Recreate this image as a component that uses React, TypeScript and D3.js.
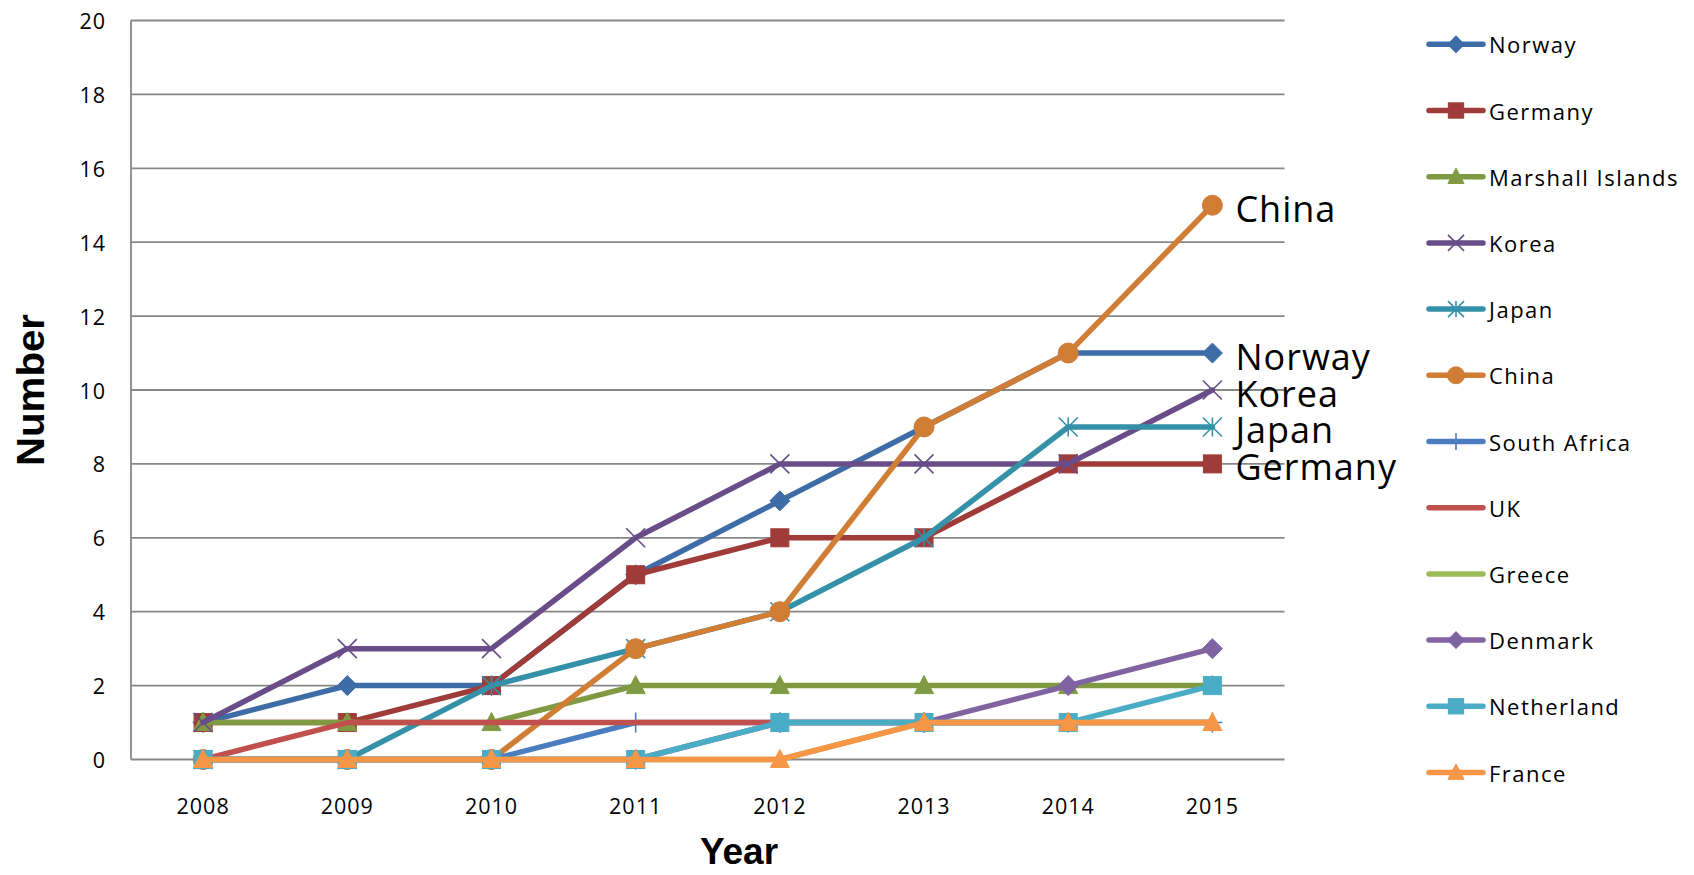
import React from "react";
import * as d3 from "d3";

const years = ["2008", "2009", "2010", "2011", "2012", "2013", "2014", "2015"];
const yTicks = [0, 2, 4, 6, 8, 10, 12, 14, 16, 18, 20];

const norway = [1, 2, 2, 5, 7, 9, 11, 11];
const germany = [1, 1, 2, 5, 6, 6, 8, 8];
const marshall = [1, 1, 1, 2, 2, 2, 2, 2];
const korea = [1, 3, 3, 6, 8, 8, 8, 10];
const japan = [0, 0, 2, 3, 4, 6, 9, 9];
const china = [0, 0, 0, 3, 4, 9, 11, 15];
const southAfrica = [0, 0, 0, 1, 1, 1, 1, 1];
const uk = [0, 1, 1, 1, 1, 1, 1, 1];
const greece = [0, 0, 0, 0, 0, 1, 1, 1];
const denmark = [0, 0, 0, 0, 1, 1, 2, 3];
const netherland = [0, 0, 0, 0, 1, 1, 1, 2];
const france = [0, 0, 0, 0, 0, 1, 1, 1];

type Marker = "diamond" | "square" | "triangle" | "x" | "star" | "circle" | "plus" | "none";

const series: { name: string; values: number[]; color: string; marker: Marker }[] = [
  { name: "Norway", values: norway, color: "#3D6CA6", marker: "diamond" },
  { name: "Germany", values: germany, color: "#9F3C39", marker: "square" },
  { name: "Marshall Islands", values: marshall, color: "#7F9A42", marker: "triangle" },
  { name: "Korea", values: korea, color: "#684D88", marker: "x" },
  { name: "Japan", values: japan, color: "#3591A8", marker: "star" },
  { name: "China", values: china, color: "#D07D35", marker: "circle" },
  { name: "South Africa", values: southAfrica, color: "#4A7EBF", marker: "plus" },
  { name: "UK", values: uk, color: "#C0504D", marker: "none" },
  { name: "Greece", values: greece, color: "#9BBB59", marker: "none" },
  { name: "Denmark", values: denmark, color: "#8064A2", marker: "diamond" },
  { name: "Netherland", values: netherland, color: "#4BACC6", marker: "square" },
  { name: "France", values: france, color: "#F79646", marker: "triangle" },
];

const endLabels = ["China", "Norway", "Korea", "Japan", "Germany"];

const W = 1694;
const H = 875;
const plotLeft = 131;
const plotRight = 1284.5;
const plotTop = 20.5;
const plotBottom = 759.5;

const textFont = "'Open Sans', 'Noto Sans', sans-serif";
const titleFont = "'Liberation Sans', Arial, sans-serif";

function MarkerShape({ type, x, y, color, s }: { type: Marker; x: number; y: number; color: string; s: number }) {
  const h = s / 2;
  switch (type) {
    case "diamond":
      return <path d={`M${x},${y - h}L${x + h},${y}L${x},${y + h}L${x - h},${y}Z`} fill={color} stroke={color} strokeWidth={1} />;
    case "square":
      return <rect x={x - h * 0.9} y={y - h * 0.9} width={h * 1.8} height={h * 1.8} fill={color} stroke={color} strokeWidth={1} />;
    case "triangle":
      return <path d={`M${x},${y - h}L${x + h * 0.95},${y + h * 0.8}L${x - h * 0.95},${y + h * 0.8}Z`} fill={color} stroke={color} strokeWidth={1} />;
    case "circle":
      return <circle cx={x} cy={y} r={h} fill={color} stroke={color} strokeWidth={1} />;
    case "x":
      return (
        <path d={`M${x - h},${y - h}L${x + h},${y + h}M${x - h},${y + h}L${x + h},${y - h}`} stroke={color} strokeWidth={1.6} fill="none" />
      );
    case "star":
      return (
        <path
          d={`M${x - h},${y - h}L${x + h},${y + h}M${x - h},${y + h}L${x + h},${y - h}M${x},${y - h}L${x},${y + h}`}
          stroke={color}
          strokeWidth={1.6}
          fill="none"
        />
      );
    case "plus":
      return <path d={`M${x - h},${y}L${x + h},${y}M${x},${y - h}L${x},${y + h}`} stroke={color} strokeWidth={1.6} fill="none" />;
    default:
      return null;
  }
}

export default function App() {
  const xBand = d3.scaleBand<string>().domain(years).range([plotLeft, plotRight]);
  const xPos = (yr: string) => (xBand(yr) as number) + xBand.bandwidth() / 2;
  const y = d3.scaleLinear().domain([0, 20]).range([plotBottom, plotTop]);

  const line = d3
    .line<number>()
    .x((_, i) => xPos(years[i]))
    .y((v) => y(v));

  const legendX = 1429;
  const legendY0 = 44.3;
  const legendStep = 66.2;

  return (
    <svg width={W} height={H} style={{ position: "absolute", left: 0, top: 0, background: "#fff" }}>
      <rect x={0} y={0} width={W} height={H} fill="#fff" />
      {yTicks.map((t) => (
        <line key={t} x1={plotLeft} x2={plotRight} y1={y(t)} y2={y(t)} stroke="#878787" strokeWidth={1.8} />
      ))}
      <line x1={plotLeft} x2={plotLeft} y1={plotTop} y2={plotBottom} stroke="#878787" strokeWidth={1.8} />
      {yTicks.map((t) => (
        <text
          key={t}
          x={106}
          y={y(t)}
          textAnchor="end"
          dominantBaseline="central"
          fontFamily={textFont}
          fontSize={21.5}
          letterSpacing={1}
          fill="#000"
        >
          {t}
        </text>
      ))}
      {years.map((yr) => (
        <text
          key={yr}
          x={xPos(yr)}
          y={805}
          textAnchor="middle"
          dominantBaseline="central"
          fontFamily={textFont}
          fontSize={21.5}
          letterSpacing={1}
          fill="#000"
        >
          {yr}
        </text>
      ))}
      {series.map((s) => (
        <g key={s.name}>
          <path d={line(s.values) || ""} fill="none" stroke={s.color} strokeWidth={5.5} strokeLinejoin="round" strokeLinecap="round" />
          {s.values.map((v, i) => (
            <MarkerShape key={i} type={s.marker} x={xPos(years[i])} y={y(v)} color={s.color} s={s.marker === "x" || s.marker === "star" ? 19 : 20} />
          ))}
        </g>
      ))}
      {series
        .filter((s) => endLabels.includes(s.name))
        .map((s) => {
          const v = s.values[s.values.length - 1];
          return (
            <text
              key={s.name}
              x={xPos(years[years.length - 1]) + 23}
              y={y(v) + 3}
              dominantBaseline="central"
              fontFamily={textFont}
              fontSize={36}
              letterSpacing={1}
              fill="#000"
            >
              {s.name}
            </text>
          );
        })}
      {series.map((s, i) => {
        const ly = legendY0 + i * legendStep;
        const cx = legendX + 27;
        return (
          <g key={s.name}>
            <line x1={legendX} x2={legendX + 54} y1={ly} y2={ly} stroke={s.color} strokeWidth={5.5} strokeLinecap="round" />
            <MarkerShape type={s.marker} x={cx} y={ly} color={s.color} s={s.marker === "x" || s.marker === "star" ? 16 : 17} />
            <text x={1489} y={ly} dominantBaseline="central" fontFamily={textFont} fontSize={22} letterSpacing={1.5} fill="#000">
              {s.name}
            </text>
          </g>
        );
      })}
      <text
        transform={`translate(30,${(plotTop + plotBottom) / 2}) rotate(-90)`}
        textAnchor="middle"
        dominantBaseline="central"
        fontFamily={titleFont}
        fontWeight="bold"
        fontSize={39}
        textLength={152}
        lengthAdjust="spacingAndGlyphs"
        fill="#000"
      >
        Number
      </text>
      <text x={739} y={864} textAnchor="middle" fontFamily={titleFont} fontWeight="bold" fontSize={37} fill="#000">
        Year
      </text>
    </svg>
  );
}
